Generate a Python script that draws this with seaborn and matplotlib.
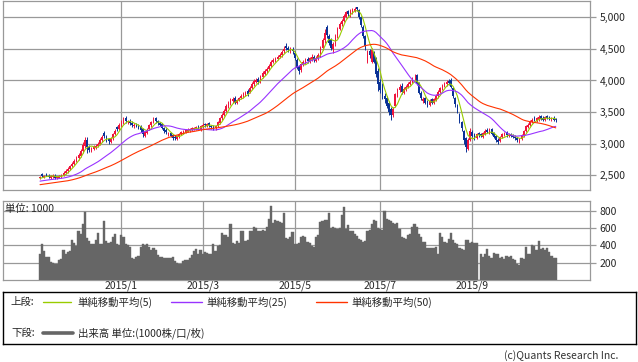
import numpy as np
import pandas as pd
import matplotlib
matplotlib.use("Agg")
import matplotlib.pyplot as plt
import seaborn as sns

# daily prices, 2014/11/05 - 2015/10/30
opens = [2450, 2510, 2470, 2510, 2490, 2460, 2470, 2490, 2450, 2460,
         2470, 2500, 2530, 2560, 2600, 2640, 2680, 2720, 2770, 2810,
         2880, 2960, 3060, 2950, 2880, 2910, 2930, 2960, 3000, 3050,
         3160, 3110, 3070, 3030, 3080, 3150, 3260, 3230, 3290, 3330,
         3400, 3340, 3360, 3330, 3280, 3310, 3290, 3270, 3230, 3120,
         3170, 3230, 3290, 3340, 3400, 3350, 3320, 3310, 3240, 3220,
         3150, 3160, 3130, 3110, 3070, 3110, 3150, 3170, 3190, 3200,
         3210, 3220, 3230, 3240, 3270, 3220, 3270, 3310, 3280, 3320,
         3280, 3270, 3240, 3280, 3330, 3400, 3450, 3520, 3580, 3630,
         3680, 3720, 3650, 3690, 3720, 3750, 3770, 3830, 3820, 3880,
         3940, 3980, 4030, 3980, 4060, 4110, 4150, 4180, 4230, 4300,
         4320, 4340, 4380, 4400, 4460, 4540, 4520, 4470, 4500, 4440,
         4330, 4220, 4160, 4260, 4290, 4340, 4300, 4340, 4370, 4310,
         4350, 4400, 4510, 4640, 4850, 4700, 4650, 4500, 4580, 4700,
         4820, 4890, 4950, 5010, 5100, 5040, 5080, 5100, 5160, 5120,
         5000, 4850, 4700, 4300, 4470, 4300, 4450, 4350, 4150, 3980,
         3900, 3760, 3720, 3650, 3550, 3450, 3600, 3760, 3850, 3920,
         3800, 3860, 3900, 3950, 3980, 4050, 4080, 3960, 3800, 3680,
         3720, 3670, 3610, 3700, 3640, 3690, 3750, 3820, 3870, 3910,
         3940, 3990, 4000, 3880, 3720, 3600, 3450, 3340, 3200, 3080,
         2920, 3060, 3180, 3150, 3090, 3170, 3150, 3110, 3150, 3220,
         3170, 3230, 3160, 3120, 3060, 3040, 3100, 3140, 3180, 3120,
         3150, 3130, 3110, 3090, 3030, 3070, 3130, 3200, 3270, 3300,
         3340, 3400, 3360, 3380, 3440, 3410, 3380, 3440, 3420, 3370,
         3410, 3390]
highs = [2490, 2530, 2500, 2530, 2510, 2500, 2510, 2510, 2490, 2500,
         2520, 2560, 2590, 2620, 2660, 2710, 2750, 2800, 2850, 2910,
         3020, 3110, 3100, 2970, 2950, 2970, 2990, 3030, 3080, 3130,
         3200, 3130, 3090, 3100, 3170, 3230, 3280, 3320, 3380, 3420,
         3430, 3380, 3390, 3350, 3320, 3330, 3310, 3290, 3250, 3200,
         3240, 3310, 3360, 3420, 3420, 3370, 3340, 3330, 3260, 3240,
         3190, 3180, 3150, 3130, 3140, 3170, 3200, 3220, 3230, 3240,
         3250, 3260, 3270, 3280, 3290, 3300, 3330, 3330, 3330, 3340,
         3300, 3290, 3300, 3360, 3420, 3480, 3550, 3620, 3670, 3720,
         3740, 3750, 3710, 3740, 3790, 3810, 3830, 3860, 3910, 3980,
         4020, 4040, 4050, 4090, 4150, 4180, 4220, 4260, 4330, 4360,
         4370, 4410, 4430, 4480, 4540, 4600, 4550, 4530, 4530, 4460,
         4350, 4240, 4280, 4330, 4360, 4370, 4380, 4420, 4400, 4390,
         4430, 4550, 4680, 4820, 4880, 4730, 4670, 4610, 4730, 4850,
         4930, 4980, 5050, 5110, 5120, 5130, 5150, 5170, 5170, 5130,
         5020, 4880, 4720, 4480, 4500, 4510, 4470, 4380, 4200, 4020,
         3960, 3800, 3750, 3680, 3580, 3580, 3800, 3880, 3950, 3960,
         3900, 3930, 3980, 4010, 4050, 4110, 4100, 3980, 3830, 3740,
         3740, 3690, 3700, 3720, 3720, 3790, 3850, 3900, 3950, 3980,
         4010, 4020, 4040, 3900, 3740, 3630, 3480, 3360, 3220, 3100,
         3090, 3240, 3210, 3170, 3170, 3190, 3170, 3180, 3230, 3240,
         3240, 3250, 3180, 3140, 3080, 3120, 3170, 3190, 3200, 3160,
         3170, 3150, 3130, 3100, 3080, 3150, 3220, 3300, 3330, 3370,
         3410, 3430, 3420, 3460, 3460, 3430, 3440, 3460, 3440, 3420,
         3430, 3410]
lows = [2430, 2470, 2450, 2480, 2450, 2440, 2460, 2440, 2430, 2450,
        2450, 2480, 2510, 2540, 2580, 2620, 2660, 2700, 2740, 2790,
        2850, 2930, 2850, 2870, 2860, 2890, 2910, 2940, 2980, 3020,
        3090, 3030, 3000, 3010, 3060, 3130, 3200, 3210, 3270, 3310,
        3330, 3310, 3290, 3270, 3250, 3260, 3230, 3190, 3100, 3100,
        3150, 3210, 3270, 3320, 3330, 3300, 3280, 3230, 3170, 3150,
        3120, 3100, 3060, 3050, 3050, 3090, 3130, 3150, 3170, 3180,
        3190, 3200, 3210, 3220, 3210, 3200, 3250, 3270, 3260, 3270,
        3230, 3210, 3220, 3260, 3310, 3380, 3430, 3500, 3560, 3610,
        3650, 3630, 3620, 3670, 3700, 3730, 3750, 3760, 3800, 3860,
        3920, 3960, 3940, 3960, 4040, 4090, 4120, 4160, 4210, 4270,
        4290, 4320, 4360, 4380, 4430, 4480, 4450, 4440, 4420, 4320,
        4180, 4110, 4130, 4230, 4260, 4280, 4280, 4310, 4300, 4290,
        4320, 4380, 4490, 4600, 4680, 4570, 4480, 4440, 4550, 4680,
        4800, 4870, 4930, 4990, 5020, 5010, 5060, 5080, 5100, 4970,
        4850, 4680, 4480, 4270, 4350, 4280, 4270, 4060, 3840, 3800,
        3700, 3640, 3560, 3450, 3370, 3420, 3580, 3740, 3820, 3780,
        3780, 3830, 3880, 3930, 3960, 4000, 3930, 3780, 3690, 3650,
        3620, 3580, 3590, 3620, 3620, 3670, 3730, 3800, 3850, 3890,
        3920, 3930, 3880, 3720, 3580, 3480, 3320, 3200, 3000, 2860,
        2900, 3040, 3100, 3060, 3070, 3110, 3100, 3090, 3130, 3160,
        3150, 3130, 3080, 3020, 2990, 3020, 3080, 3120, 3110, 3100,
        3100, 3080, 3060, 3020, 3010, 3050, 3110, 3180, 3250, 3280,
        3320, 3350, 3340, 3360, 3370, 3360, 3360, 3390, 3370, 3350,
        3360, 3340]
closes = [2470, 2490, 2480, 2500, 2470, 2480, 2490, 2460, 2470, 2480,
          2500, 2540, 2560, 2600, 2640, 2680, 2720, 2770, 2820, 2880,
          2980, 3050, 2950, 2900, 2920, 2940, 2960, 3000, 3060, 3100,
          3120, 3060, 3040, 3080, 3150, 3200, 3230, 3300, 3350, 3380,
          3360, 3350, 3320, 3300, 3290, 3280, 3260, 3220, 3150, 3180,
          3220, 3290, 3340, 3380, 3360, 3330, 3300, 3250, 3200, 3180,
          3170, 3120, 3090, 3080, 3120, 3150, 3180, 3200, 3210, 3220,
          3230, 3240, 3250, 3260, 3230, 3280, 3300, 3290, 3310, 3290,
          3260, 3250, 3280, 3340, 3400, 3450, 3520, 3590, 3640, 3680,
          3700, 3660, 3690, 3720, 3760, 3780, 3800, 3790, 3880, 3950,
          3990, 4010, 3970, 4060, 4120, 4150, 4180, 4230, 4300, 4330,
          4340, 4380, 4400, 4450, 4500, 4510, 4480, 4500, 4460, 4350,
          4200, 4150, 4260, 4300, 4330, 4310, 4350, 4380, 4330, 4360,
          4400, 4520, 4650, 4760, 4720, 4600, 4520, 4580, 4700, 4820,
          4900, 4950, 5020, 5080, 5050, 5100, 5120, 5140, 5130, 5000,
          4880, 4700, 4550, 4450, 4400, 4480, 4300, 4100, 3950, 3850,
          3750, 3700, 3600, 3500, 3450, 3550, 3780, 3850, 3900, 3820,
          3870, 3900, 3950, 3980, 4020, 4060, 3950, 3800, 3720, 3700,
          3650, 3620, 3680, 3650, 3700, 3760, 3820, 3880, 3920, 3950,
          3980, 3960, 3900, 3750, 3620, 3550, 3350, 3250, 3050, 2950,
          3050, 3200, 3120, 3100, 3150, 3130, 3120, 3160, 3200, 3180,
          3220, 3150, 3100, 3050, 3020, 3100, 3150, 3170, 3130, 3140,
          3120, 3100, 3080, 3050, 3060, 3130, 3200, 3280, 3300, 3340,
          3380, 3370, 3400, 3420, 3390, 3380, 3420, 3410, 3390, 3400,
          3380, 3370]
# volume in 1000 shares
volumes = [300, 410, 330, 270, 260, 210, 200, 190, 180, 230,
           240, 340, 300, 320, 330, 460, 430, 390, 560, 530,
           650, 780, 480, 450, 420, 420, 460, 540, 420, 420,
           680, 450, 430, 440, 500, 530, 410, 400, 520, 500,
           420, 400, 380, 250, 240, 260, 280, 380, 420, 400,
           420, 380, 350, 370, 340, 290, 270, 260, 250, 255,
           250, 250, 260, 220, 200, 180, 190, 220, 230, 230,
           250, 290, 330, 360, 300, 340, 300, 320, 310, 300,
           300, 420, 330, 390, 400, 540, 520, 520, 500, 650,
           430, 420, 450, 430, 560, 560, 450, 460, 560, 560,
           610, 600, 560, 570, 580, 570, 610, 700, 850, 660,
           690, 680, 670, 660, 770, 480, 470, 500, 550, 420,
           410, 430, 500, 510, 500, 440, 430, 390, 380, 500,
           520, 670, 680, 690, 690, 770, 600, 610, 600, 590,
           600, 750, 840, 590, 630, 560, 560, 530, 510, 470,
           460, 440, 450, 560, 580, 640, 690, 680, 600, 590,
           580, 800, 700, 690, 680, 660, 650, 660, 590, 490,
           480, 470, 520, 530, 610, 650, 610, 530, 500, 440,
           440, 370, 370, 370, 370, 380, 300, 540, 500, 440,
           430, 470, 540, 460, 430, 410, 370, 360, 350, 460,
           460, 430, 440, 430, 430, 0, 300, 260, 300, 360,
           280, 250, 310, 300, 300, 250, 270, 240, 280, 270,
           280, 240, 230, 190, 170, 250, 240, 380, 300, 300,
           400, 390, 340, 450, 360, 370, 350, 370, 320, 280,
           250, 250]
# closes before the window, only used to start the moving averages
pre_closes = [2230, 2236, 2244, 2240, 2252, 2260, 2256, 2268, 2275, 2272,
              2283, 2290, 2287, 2298, 2305, 2302, 2313, 2320, 2317, 2328,
              2334, 2331, 2342, 2350, 2347, 2356, 2362, 2359, 2368, 2374,
              2371, 2380, 2386, 2383, 2392, 2398, 2395, 2404, 2410, 2407,
              2416, 2422, 2419, 2428, 2434, 2431, 2440, 2446, 2443]

jp_holidays = ["2014-11-24", "2014-12-23", "2014-12-31", "2015-01-01", "2015-01-02",
               "2015-01-12", "2015-02-11", "2015-04-29", "2015-05-04", "2015-05-05",
               "2015-05-06", "2015-07-20", "2015-09-21", "2015-09-22", "2015-09-23",
               "2015-10-12"]
tick_months = ["2015-01", "2015-03", "2015-05", "2015-07", "2015-09"]
tick_labels = ["2015/1", "2015/3", "2015/5", "2015/7", "2015/9"]
price_ticks = [2500, 3000, 3500, 4000, 4500, 5000]
volume_ticks = [200, 400, 600, 800]
ma_windows = [5, 25, 50]
ma_labels = ["単純移動平均(5)", "単純移動平均(25)", "単純移動平均(50)"]
ma_colors = ["#99cc00", "#9933ff", "#ff3300"]

UP = "#f0143c"
DOWN = "#0a3296"
GRID = "#999999"
VOL = "#666666"

dates = pd.bdate_range("2014-11-05", "2015-10-30", freq="C", holidays=jp_holidays)
df = pd.DataFrame({"date": dates, "open": opens, "high": highs, "low": lows,
                   "close": closes, "volume": volumes})
df["idx"] = np.arange(len(df))

all_close = pd.Series(pre_closes + closes)
for w in ma_windows:
    df[f"ma{w}"] = all_close.rolling(w).mean().iloc[len(pre_closes):].values

tick_pos = [df.loc[df["date"].dt.strftime("%Y-%m") == m, "idx"].iloc[0] for m in tick_months]

sns.set_theme(style="white")
plt.rcParams["font.family"] = ["Noto Sans CJK JP", "DejaVu Sans"]

fig = plt.figure(figsize=(6.38, 3.62), dpi=100)
ax_p = fig.add_axes([3 / 638, 1 - 190 / 362, 587 / 638, 189 / 362])
ax_v = fig.add_axes([3 / 638, 1 - 280 / 362, 587 / 638, 79 / 362])
ax_l = fig.add_axes([3 / 638, 1 - 344 / 362, 633 / 638, 52 / 362])

xlim = (-17.3, 257.0)

# candles
up = df["close"] >= df["open"]
colors = np.where(up, UP, DOWN)
ax_p.vlines(df["idx"], df["low"], df["high"], colors=colors, linewidth=0.7, zorder=3)
ax_p.bar(df["idx"], (df["close"] - df["open"]).abs(), bottom=df[["open", "close"]].min(axis=1),
         width=0.75, color=colors, linewidth=0, zorder=3)

# moving averages
for w, c in zip(ma_windows, ma_colors):
    sns.lineplot(x=df["idx"], y=df[f"ma{w}"], ax=ax_p, color=c, linewidth=0.8,
                 legend=False, zorder=4)

# volume
ax_v.bar(df["idx"], df["volume"], width=1.0, color=VOL, edgecolor=VOL, linewidth=0.3, zorder=3)
ax_v.text(0.004, 0.9, "単位: 1000", transform=ax_v.transAxes, fontsize=7.5,
          ha="left", va="center", zorder=5)

for ax in (ax_p, ax_v):
    ax.set_xlim(*xlim)
    ax.set_xticks(tick_pos)
    ax.yaxis.tick_right()
    ax.grid(True, color=GRID, linewidth=0.9, zorder=0)
    ax.set_axisbelow(True)
    ax.set_xlabel("")
    ax.set_ylabel("")
    for s in ax.spines.values():
        s.set_color(GRID)
        s.set_linewidth(0.9)
    ax.tick_params(axis="y", length=4, width=0.9, color=GRID, labelsize=7.5, pad=3,
                   left=False, right=True)
    ax.tick_params(axis="x", length=0, labelsize=7.5, pad=0.5)

ax_p.set_ylim(2263, 5261)
ax_p.set_yticks(price_ticks)
ax_p.set_yticklabels([f"{v:,}" for v in price_ticks])
ax_p.tick_params(axis="x", labelbottom=False)

ax_v.set_ylim(0, 910)
ax_v.set_yticks(volume_ticks)
ax_v.set_yticklabels([str(v) for v in volume_ticks])
ax_v.set_xticklabels(tick_labels)

# legend box
ax_l.set_xlim(0, 1)
ax_l.set_ylim(0, 1)
ax_l.set_xticks([])
ax_l.set_yticks([])
for s in ax_l.spines.values():
    s.set_color("black")
    s.set_linewidth(1.0)

row1, row2 = 0.80, 0.21
ax_l.text(0.0126, row1, "上段:", fontsize=7.5, va="center")
line_x = [(0.063, 0.107), (0.265, 0.314), (0.494, 0.543)]
text_x = [0.118, 0.322, 0.551]
for (x0, x1), tx, c, lab in zip(line_x, text_x, ma_colors, ma_labels):
    ax_l.plot([x0, x1], [row1, row1], color=c, linewidth=1.0)
    ax_l.text(tx, row1, lab, fontsize=7.5, va="center")
ax_l.text(0.0126, row2, "下段:", fontsize=7.5, va="center")
ax_l.plot([0.063, 0.110], [row2, row2], color=VOL, linewidth=2.6)
ax_l.text(0.118, row2, "出来高 単位:(1000株/口/枚)", fontsize=7.5, va="center")

fig.text(618 / 638, 1 - 356 / 362, "(c)Quants Research Inc.", fontsize=7.5,
         ha="right", va="center", color="#333333")

fig.savefig("out.png", dpi=100)
